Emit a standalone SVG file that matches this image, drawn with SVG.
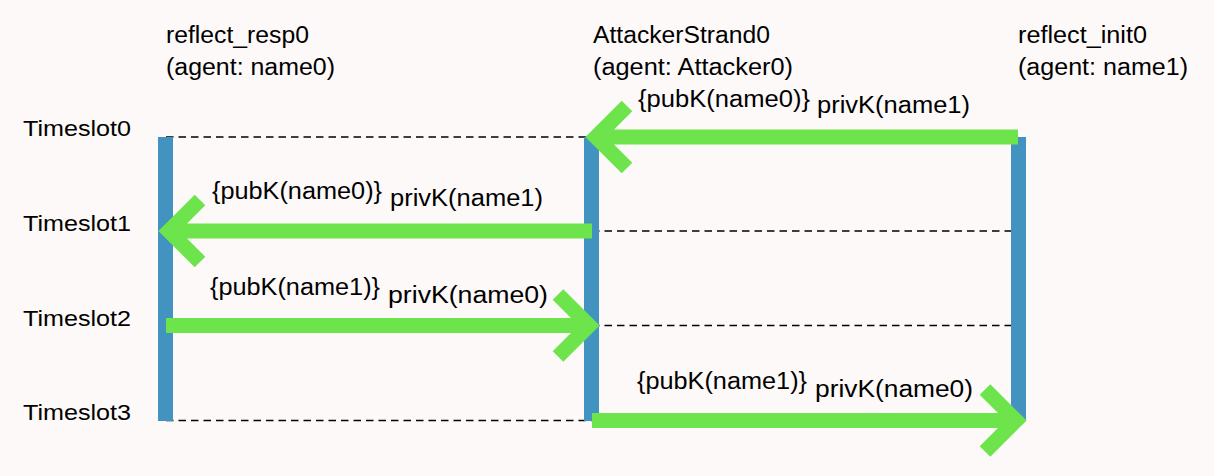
<svg xmlns="http://www.w3.org/2000/svg" width="1214" height="476" viewBox="0 0 1214 476">
<style>
text{font-family:"Liberation Sans",Arial,sans-serif;fill:#000}
.hd{font-size:23px}
.ts{font-size:22px}
.msg{font-size:23px}
.bar{fill:#4393c1}
.dash{stroke:#000;stroke-width:1.4;stroke-dasharray:7.5 5;fill:none}
.arr{stroke:#6de44b;stroke-width:15;fill:none;stroke-linejoin:miter;stroke-linecap:butt}
</style>
<rect width="1214" height="476" fill="#fdf9f8"/>
<g id="timeslots">
<text class="ts" x="23" y="136" textLength="108" lengthAdjust="spacingAndGlyphs">Timeslot0</text>
<text class="ts" x="23" y="231" textLength="108" lengthAdjust="spacingAndGlyphs">Timeslot1</text>
<text class="ts" x="23" y="326" textLength="108" lengthAdjust="spacingAndGlyphs">Timeslot2</text>
<text class="ts" x="23" y="420" textLength="108" lengthAdjust="spacingAndGlyphs">Timeslot3</text>
</g>
<g id="gridlines">
<line class="dash" x1="166" y1="137" x2="592" y2="137"/>
<line class="dash" x1="592" y1="231" x2="1018" y2="231"/>
<line class="dash" x1="592" y1="325.5" x2="1018" y2="325.5"/>
<line class="dash" x1="166" y1="420.5" x2="592" y2="420.5"/>
</g>
<g id="reflect_resp0">
<text class="hd" x="166" y="43" textLength="143" lengthAdjust="spacingAndGlyphs">reflect_resp0</text>
<text class="hd" x="166" y="75" textLength="169" lengthAdjust="spacingAndGlyphs">(agent: name0)</text>
<rect class="bar" x="158" y="137" width="15" height="284"/>
</g>
<g id="AttackerStrand0">
<text class="hd" x="593" y="43" textLength="177" lengthAdjust="spacingAndGlyphs">AttackerStrand0</text>
<text class="hd" x="593" y="75" textLength="200" lengthAdjust="spacingAndGlyphs">(agent: Attacker0)</text>
<rect class="bar" x="584" y="137" width="15" height="284"/>
</g>
<g id="reflect_init0">
<text class="hd" x="1018" y="43" textLength="129" lengthAdjust="spacingAndGlyphs">reflect_init0</text>
<text class="hd" x="1018" y="75" textLength="170" lengthAdjust="spacingAndGlyphs">(agent: name1)</text>
<rect class="bar" x="1011" y="137" width="15" height="284"/>
</g>
<g id="connectors">
<path class="arr" d="M1018 137H596M627 106L596 137L627 168"/>
<path class="arr" d="M592 231H169M200 200L169 231L200 262"/>
<path class="arr" d="M166 325.5H589M558 294.5L589 325.5L558 356.5"/>
<path class="arr" d="M592 420.5H1016M985 389.5L1016 420.5L985 451.5"/>
</g>
<g id="labels">
<text class="msg" x="638" y="107" textLength="172" lengthAdjust="spacingAndGlyphs">{pubK(name0)}</text>
<text class="msg" x="817" y="113" textLength="153" lengthAdjust="spacingAndGlyphs">privK(name1)</text>
<text class="msg" x="212" y="199" textLength="170" lengthAdjust="spacingAndGlyphs">{pubK(name0)}</text>
<text class="msg" x="390" y="206" textLength="153" lengthAdjust="spacingAndGlyphs">privK(name1)</text>
<text class="msg" x="210" y="295" textLength="170" lengthAdjust="spacingAndGlyphs">{pubK(name1)}</text>
<text class="msg" x="388" y="303" textLength="160" lengthAdjust="spacingAndGlyphs">privK(name0)</text>
<text class="msg" x="637" y="389" textLength="170" lengthAdjust="spacingAndGlyphs">{pubK(name1)}</text>
<text class="msg" x="815" y="397" textLength="158" lengthAdjust="spacingAndGlyphs">privK(name0)</text>
</g>
</svg>
